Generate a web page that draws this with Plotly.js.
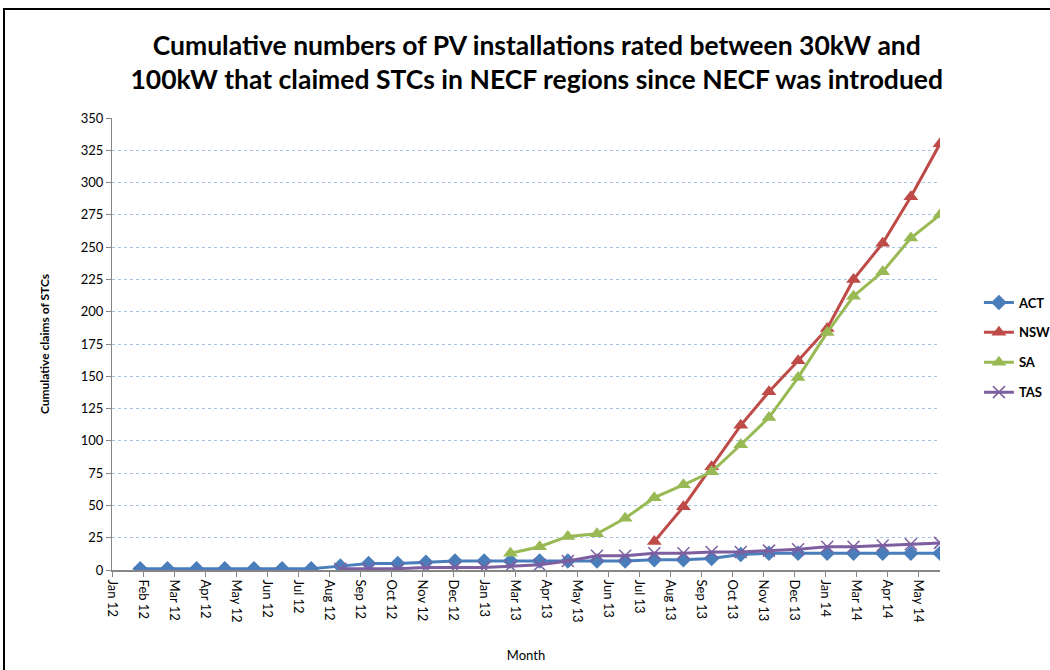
<!DOCTYPE html>
<html>
<head>
<meta charset="utf-8">
<script src="https://cdn.plot.ly/plotly-3.0.1.min.js"></script>
<style>
  html, body { margin: 0; padding: 0; background: #fff; overflow: hidden; }
  #wrap { position: relative; width: 1050px; height: 670px; }
  #chart { width: 1050px; height: 670px; }
  #frame { position: absolute; left: 3px; top: 8px; width: 1100px; height: 700px;
           border: 2px solid #000; pointer-events: none; box-sizing: border-box; }
</style>
</head>
<body>
<div id="wrap">
  <div id="chart"></div>
  <div id="frame"></div>
</div>
<script>
// Month-end dates of each cumulative reading
const months = [
  '2012-01-31','2012-02-29','2012-03-31','2012-04-30','2012-05-31','2012-06-30',
  '2012-07-31','2012-08-31','2012-09-30','2012-10-31','2012-11-30','2012-12-31',
  '2013-01-31','2013-02-28','2013-03-31','2013-04-30','2013-05-31','2013-06-30',
  '2013-07-31','2013-08-31','2013-09-30','2013-10-31','2013-11-30','2013-12-31',
  '2014-01-31','2014-02-28','2014-03-31','2014-04-30','2014-05-31'
];
const seriesNames = ['ACT', 'NSW', 'SA', 'TAS'];
const actValues = [1,1,1,1,1,1,1,3,5,5,6,7,7,7,7,7,7,7,8,8,9,12,13,13,13,13,13,13,13];
const nswValues = [null,null,null,null,null,null,null,null,null,null,null,null,null,null,null,null,null,null,
                   22,49,80,112,138,162,187,225,253,289,330];
const saValues  = [null,null,null,null,null,null,null,null,null,null,null,null,null,
                   13,18,26,28,40,56,66,76,97,118,149,184,212,231,257,275];
const tasValues = [null,null,null,null,null,null,null,
                   1,1,1,2,2,2,3,4,7,11,11,13,13,14,14,15,16,18,18,19,20,21];

const axisStart = '2012-01-01';
const axisEnd = '2014-05-31';
const tickStepDays = 33;

const colors = { ACT: '#4a7ebb', NSW: '#be4b48', SA: '#98b954', TAS: '#7d5fa0' };
const symbols = { ACT: 'diamond', NSW: 'triangle-up', SA: 'triangle-up', TAS: 'x-thin' };
const sizes = { ACT: 12, NSW: 13, SA: 13, TAS: 12 };
const valuesByName = { ACT: actValues, NSW: nswValues, SA: saValues, TAS: tasValues };

const FONT = 'Lato, "Open Sans", sans-serif';

const traces = seriesNames.map(name => ({
  type: 'scatter',
  mode: 'lines+markers',
  name: name,
  x: months,
  y: valuesByName[name],
  connectgaps: false,
  legendgroup: name,
  line: { color: colors[name], width: 3 },
  marker: {
    symbol: symbols[name],
    size: sizes[name],
    color: colors[name],
    line: name === 'TAS' ? { color: colors[name], width: 1.5 } : { width: 0 }
  }
}));

const layout = {
  width: 1050,
  height: 670,
  paper_bgcolor: '#ffffff',
  plot_bgcolor: '#ffffff',
  margin: { l: 112, r: 110, t: 118, b: 100, autoexpand: false },
  font: { family: FONT, size: 13, color: '#000' },
  title: {
    text: 'Cumulative numbers of PV installations rated between 30kW and<br>100kW that claimed STCs in NECF regions since NECF was introdued',
    font: { family: FONT, size: 26.5, color: '#000', weight: 'bold' },
    xref: 'paper', x: 0.513, xanchor: 'center',
    yref: 'container', y: 0.918, yanchor: 'middle'
  },
  showlegend: true,
  legend: {
    x: 1.047, xanchor: 'left',
    y: 0.625, yanchor: 'top',
    font: { family: FONT, size: 13, color: '#000', weight: 'bold' },
    tracegroupgap: 10,
    traceorder: 'grouped',
    bgcolor: 'rgba(0,0,0,0)'
  },
  xaxis: {
    type: 'date',
    range: [axisStart, axisEnd],
    tickmode: 'linear',
    tick0: axisStart,
    dtick: tickStepDays * 86400000,
    tickformat: '%b %y',
    tickangle: 90,
    ticks: 'outside',
    ticklen: 5,
    tickcolor: '#868686',
    showline: true,
    linecolor: '#868686',
    linewidth: 2,
    showgrid: false,
    zeroline: false,
    tickfont: { family: FONT, size: 13, color: '#000' },
    title: { text: 'Month', font: { family: FONT, size: 13, color: '#000' }, standoff: 29 }
  },
  yaxis: {
    range: [0, 350],
    tickmode: 'linear',
    tick0: 0,
    dtick: 25,
    ticks: 'outside',
    ticklen: 5,
    tickcolor: '#868686',
    showline: true,
    linecolor: '#868686',
    linewidth: 1,
    showgrid: true,
    gridcolor: '#a9c3e3',
    griddash: 'dot',
    gridwidth: 1,
    zeroline: false,
    tickfont: { family: FONT, size: 13, color: '#000' },
    title: { text: 'Cumulative claims of STCs', font: { family: FONT, size: 12, color: '#000', weight: 'bold' }, standoff: 28 }
  }
};

Plotly.newPlot('chart', traces, layout, { displayModeBar: false, staticPlot: true });
</script>
</body>
</html>
